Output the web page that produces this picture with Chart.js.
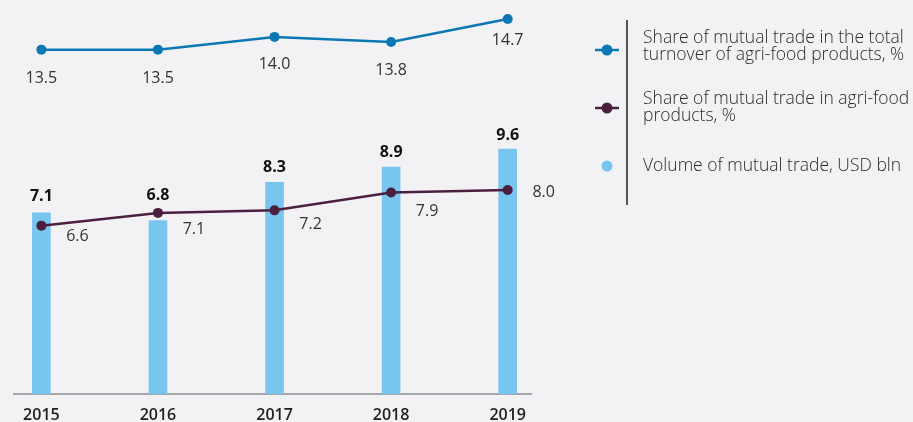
<!DOCTYPE html>
<html>
<head>
<meta charset="utf-8">
<script src="https://cdn.jsdelivr.net/npm/chart.js@4"></script>
<style>
    html, body { margin: 0; padding: 0; background: #f2f2f5; }
    canvas { display: block; }
</style>
</head>
<body>
<canvas id="myChart" width="913" height="422"></canvas>
<script>
//Données du graphique
let annees = [2015, 2016, 2017, 2018, 2019];
let volume = [7.1, 6.8, 8.3, 8.9, 9.6];
let partAgro = [6.6, 7.1, 7.2, 7.9, 8.0];
let partTotal = [13.5, 13.5, 14.0, 13.8, 14.7];

//Libellés de la légende
let legendes = [
    ["Share of mutual trade in the total", "turnover of agri-food products, %"],
    ["Share of mutual trade in agri-food", "products, %"],
    ["Volume of mutual trade, USD bln"]
];

//Couleurs
let bleu = "#0b78b3";
let prune = "#4a1f40";
let ciel = "#78c5f0";

//Petits décalages verticaux des étiquettes (style, pas des données)
let decalBarre = [16, 25, 15, 15, 14];
let decalPrune = [11, 17, 14, 19, 3];
let decalBleu = [29, 29, 28, 28, 21];

//Transformer les tableaux en points {x, y}
function points(valeurs) {
    let res = [];
    for (let i = 0; i < annees.length; i++) {
        res.push({x: annees[i], y: valeurs[i]});
    }
    return res;
}

//Plugin pour écrire les valeurs et la légende
const etiquettes = {
    id: 'etiquettes',
    afterDatasetsDraw(chart) {
        const ctx = chart.ctx;
        ctx.save();
        ctx.textBaseline = "middle";

        //Valeurs des barres
        let meta = chart.getDatasetMeta(2);
        ctx.font = "700 16px 'Open Sans'";
        ctx.fillStyle = "#111";
        ctx.textAlign = "center";
        meta.data.forEach(function (b, i) {
            ctx.fillText(volume[i].toFixed(1), b.x, b.y - decalBarre[i]);
        });

        //Valeurs de la ligne prune
        meta = chart.getDatasetMeta(1);
        ctx.font = "400 16px 'Open Sans'";
        ctx.fillStyle = "#333";
        meta.data.forEach(function (p, i) {
            ctx.fillText(partAgro[i].toFixed(1), p.x + 36, p.y + decalPrune[i]);
        });

        //Valeurs de la ligne bleue
        meta = chart.getDatasetMeta(0);
        meta.data.forEach(function (p, i) {
            ctx.fillText(partTotal[i].toFixed(1), p.x, p.y + decalBleu[i]);
        });

        //Légende à droite
        ctx.strokeStyle = "#222";
        ctx.lineWidth = 1.5;
        ctx.beginPath();
        ctx.moveTo(627, 20);
        ctx.lineTo(627, 205);
        ctx.stroke();

        let couleurs = [bleu, prune, ciel];
        let yMarque = [50, 108, 166];
        let yTexte = [38, 99, 166];
        ctx.textAlign = "left";
        ctx.font = "300 17.5px 'Open Sans'";
        for (let k = 0; k < 3; k++) {
            ctx.fillStyle = couleurs[k];
            ctx.strokeStyle = couleurs[k];
            if (k < 2) {
                ctx.lineWidth = 2.5;
                ctx.beginPath();
                ctx.moveTo(595, yMarque[k]);
                ctx.lineTo(619, yMarque[k]);
                ctx.stroke();
            }
            ctx.beginPath();
            ctx.arc(607, yMarque[k], 5.5, 0, Math.PI * 2);
            ctx.fill();

            ctx.fillStyle = "#2a2a2a";
            for (let l = 0; l < legendes[k].length; l++) {
                ctx.fillText(legendes[k][l], 643, yTexte[k] + l * 17);
            }
        }
        ctx.restore();
    }
};

//Enfin créer le graphe
new Chart(document.getElementById('myChart').getContext('2d'), {
    type: 'bar',
    data: {
        datasets: [{
            type: 'line',
            label: legendes[0].join(' '),
            data: points(partTotal),
            borderColor: bleu,
            backgroundColor: bleu,
            borderWidth: 2.5,
            pointRadius: 5,
            pointBackgroundColor: bleu,
            pointBorderWidth: 0,
            order: 1
        }, {
            type: 'line',
            label: legendes[1].join(' '),
            data: points(partAgro),
            borderColor: prune,
            backgroundColor: prune,
            borderWidth: 2.5,
            pointRadius: 5,
            pointBackgroundColor: prune,
            pointBorderWidth: 0,
            order: 2
        }, {
            label: legendes[2][0],
            data: points(volume),
            backgroundColor: ciel,
            barThickness: 18,
            order: 3
        }]
    },
    options: {
        responsive: false,
        animation: false,
        layout: {padding: {left: 14, right: 382, top: 0, bottom: 0}},
        plugins: {
            legend: {display: false},
            tooltip: {enabled: false}
        },
        scales: {
            x: {
                type: 'linear',
                offset: false,
                min: 2014.765,
                max: 2019.2,
                grid: {display: false, drawTicks: false},
                border: {display: true, color: "#a3a7ab", width: 2},
                ticks: {
                    stepSize: 1,
                    includeBounds: false,
                    padding: 12,
                    color: "#222",
                    font: {family: "'Open Sans'", size: 16, weight: '600'},
                    callback: function (v) {
                        return Number.isInteger(v) ? String(v) : '';
                    }
                },
                afterFit: function (s) {
                    s.height = 28;
                }
            },
            y: {
                display: false,
                min: 0,
                max: 15.25
            }
        }
    },
    plugins: [etiquettes]
});
</script>
</body>
</html>
